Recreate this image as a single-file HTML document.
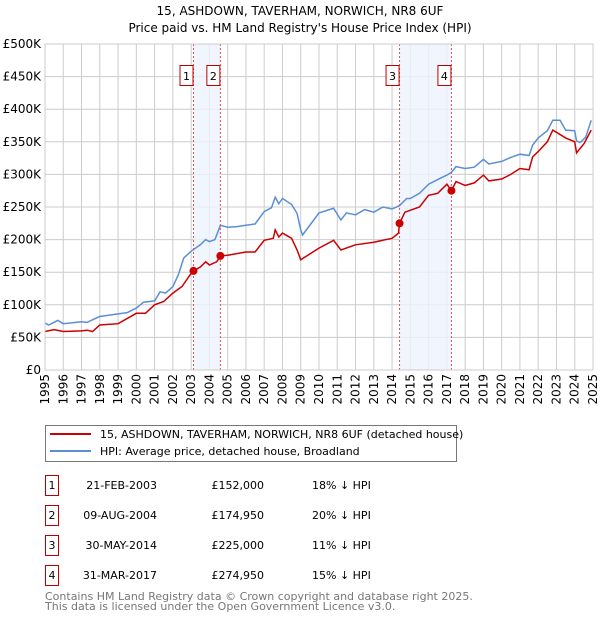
<!DOCTYPE html>
<html><head><meta charset="utf-8"><style>
body{margin:0;background:#fff;font-family:"DejaVu Sans","Liberation Sans",sans-serif;}
svg text{font-family:"DejaVu Sans","Liberation Sans",sans-serif;}
</style></head><body>
<svg id="chart" width="600" height="620" viewBox="0 0 600 620">
<text x="300" y="15" text-anchor="middle" font-size="12">15, ASHDOWN, TAVERHAM, NORWICH, NR8 6UF</text>
<text x="300" y="32" text-anchor="middle" font-size="12">Price paid vs. HM Land Registry's House Price Index (HPI)</text>
<g id="grid"></g><g id="shade"></g><g id="lines"></g><g id="marks"></g><g id="axes"></g>
<g>
<rect x="45.5" y="425.5" width="411" height="36" fill="#fff" stroke="#777"/>
<line x1="50" y1="434" x2="91" y2="434" stroke="#cc0000" stroke-width="2"/>
<text x="100" y="438" font-size="11">15, ASHDOWN, TAVERHAM, NORWICH, NR8 6UF (detached house)</text>
<line x1="50" y1="451" x2="91" y2="451" stroke="#5b8fd4" stroke-width="2"/>
<text x="100" y="455" font-size="11">HPI: Average price, detached house, Broadland</text>
</g>
<g id="table" font-size="11"></g>
<text x="45" y="600" font-size="11" fill="#777">Contains HM Land Registry data © Crown copyright and database right 2025.</text>
<text x="45" y="610" font-size="11" fill="#777">This data is licensed under the Open Government Licence v3.0.</text>
</svg>
<script>
const yTicks=[0,50,100,150,200,250,300,350,400,450,500];
const yTickLabels=["£0","£50K","£100K","£150K","£200K","£250K","£300K","£350K","£400K","£450K","£500K"];
const xYears=[1995,1996,1997,1998,1999,2000,2001,2002,2003,2004,2005,2006,2007,2008,2009,2010,2011,2012,2013,2014,2015,2016,2017,2018,2019,2020,2021,2022,2023,2024,2025];
const hpiT=[1995,1995.2,1995.7,1996,1997,1997.3,1997.6,1998,1999,1999.5,2000,2000.4,2001,2001.3,2001.6,2002,2002.3,2002.6,2003,2003.5,2003.8,2004,2004.3,2004.6,2005,2005.5,2006,2006.5,2007,2007.4,2007.6,2007.8,2008,2008.5,2008.8,2009,2009.1,2010,2010.8,2011.2,2011.5,2012,2012.5,2013,2013.5,2014,2014.4,2014.8,2015,2015.5,2016,2016.5,2017,2017.25,2017.5,2018,2018.5,2019,2019.3,2020,2020.5,2021,2021.5,2021.7,2022,2022.5,2022.8,2023.2,2023.5,2024,2024.1,2024.3,2024.6,2024.9];
const hpiV=[72,69,76,71,74,73,77,82,86,88,95,104,106,120,118,128,146,172,182,192,200,197,200,222,219,220,222,224,243,249,265,255,263,254,240,215,207,241,248,230,241,238,246,242,250,247,252,263,263,271,285,292,299,303,312,309,311,323,316,320,326,331,329,345,356,367,383,383,368,367,351,349,357,383];
const redT=[1995,1995.5,1996,1997,1997.3,1997.6,1998,1999,2000,2000.5,2001,2001.5,2002,2002.5,2003,2003.13,2003.5,2003.8,2004,2004.4,2004.6,2005,2006,2006.5,2007,2007.5,2007.6,2007.8,2008,2008.5,2008.8,2009,2010,2010.8,2011.2,2012,2013,2014,2014.35,2014.41,2014.7,2015.5,2016,2016.5,2017,2017.25,2017.5,2018,2018.5,2019,2019.3,2020,2020.5,2021,2021.5,2021.7,2022,2022.5,2022.8,2023.5,2024,2024.1,2024.5,2024.9];
const redV=[59,62,59,60,61,59,69,71,87,87,100,105,118,128,148,152,158,166,161,166,175,176,181,181,199,202,215,204,210,202,184,169,187,199,184,192,196,202,210,225,242,250,268,271,285,275,289,283,287,299,290,293,300,309,307,327,335,350,368,356,350,333,347,368];
const saleT=[2003.13,2004.6,2014.41,2017.25];
const saleV=[152,174.95,225,274.95];
const saleLabels=["1","2","3","4"];
const saleDates=["21-FEB-2003","09-AUG-2004","30-MAY-2014","31-MAR-2017"];
const salePrices=["£152,000","£174,950","£225,000","£274,950"];
const saleHpi=["18% ↓ HPI","20% ↓ HPI","11% ↓ HPI","15% ↓ HPI"];
const NS="http://www.w3.org/2000/svg";
const X0=45,X1=593,Y0=370,Y1=44;
const xs=t=>X0+(t-1995)/30*(X1-X0);
const ys=v=>Y0-v/500*(Y0-Y1);
function mk(p,tag,a){const e=document.createElementNS(NS,tag);for(const k in a)e.setAttribute(k,a[k]);p.appendChild(e);return e;}
const grid=document.getElementById('grid'),shade=document.getElementById('shade'),lines=document.getElementById('lines'),marks=document.getElementById('marks'),axes=document.getElementById('axes'),table=document.getElementById('table');
for(let i=0;i<yTicks.length;i++){const y=ys(yTicks[i]);
 const g=mk(grid,'line',{x1:X0,x2:X1,y1:y,y2:y,stroke:'#ccc','stroke-width':1});
 
 const t=mk(axes,'text',{x:41,y:y+4,'text-anchor':'end','font-size':12});t.textContent=yTickLabels[i];
 }
for(const yr of xYears){const x=xs(yr);
 const g=mk(grid,'line',{x1:x,x2:x,y1:Y1,y2:Y0,stroke:'#ccc','stroke-width':1});
 
 const t=mk(axes,'text',{x:0,y:0,'text-anchor':'end','font-size':12,transform:`translate(${x+4},374) rotate(-90)`});t.textContent=yr;
 }
for(let p=0;p<2;p++){const a=xs(saleT[2*p]),b=xs(saleT[2*p+1]);
 const r=mk(shade,'rect',{x:a,y:Y1,width:b-a,height:Y0-Y1,fill:'#eef3fd',opacity:0.8});
 }
function pts(T,V){return T.map((t,i)=>xs(t).toFixed(1)+','+ys(V[i]).toFixed(1)).join(' ');}
const hl=mk(lines,'polyline',{points:pts(hpiT,hpiV),fill:'none',stroke:'#5b8fd4','stroke-width':1.5});

const rl=mk(lines,'polyline',{points:pts(redT,redV),fill:'none',stroke:'#cc0000','stroke-width':1.5});

for(let i=0;i<saleT.length;i++){const x=xs(saleT[i]);
 const l=mk(marks,'line',{x1:x,x2:x,y1:Y1,y2:Y0,stroke:'#e05050','stroke-width':1,'stroke-dasharray':'2,2'});
 
 const c=mk(marks,'circle',{cx:x,cy:ys(saleV[i]),r:4,fill:'#cc0000'});
 
 const bx=mk(marks,'rect',{x:x-13.5,y:65.5,width:13,height:20,fill:'#fff',stroke:'#b00'});
 
 const t=mk(marks,'text',{x:x-7,y:80,'text-anchor':'middle','font-size':11});t.textContent=saleLabels[i];
 
 const ry=475+i*30;
 const tb=mk(table,'rect',{x:45.5,y:ry+0.5,width:13,height:20,fill:'#fff',stroke:'#b00'});
 
 const tn=mk(table,'text',{x:52,y:ry+14,'text-anchor':'middle'});tn.textContent=saleLabels[i];
 
 const td=mk(table,'text',{x:157,y:ry+14,'text-anchor':'end'});td.textContent=saleDates[i];
 
 const tp=mk(table,'text',{x:264,y:ry+14,'text-anchor':'end'});tp.textContent=salePrices[i];
 
 const th=mk(table,'text',{x:312,y:ry+14});th.textContent=saleHpi[i];
 }
const fr=mk(axes,'rect',{x:X0,y:Y1,width:X1-X0,height:Y0-Y1,fill:'none',stroke:'#ccc'});

</script>
</body></html>
